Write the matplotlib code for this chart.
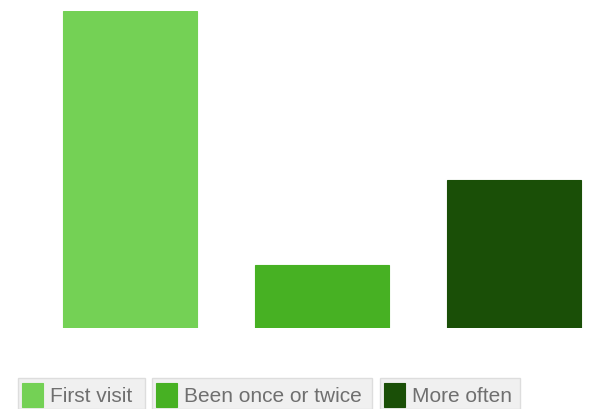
import matplotlib
matplotlib.use("Agg")
import matplotlib.pyplot as plt
from matplotlib.patches import Rectangle

categories = ["First visit", "Been once or twice", "More often"]
values = [60, 12, 28]
colors = ["#74d155", "#47b123", "#1a4f07"]

W, H = 610, 409
fig = plt.figure(figsize=(W / 100, H / 100), dpi=100)

def fx(px):
    return px / W

def fy(py):
    return 1 - py / H

ax_top, ax_bot = 11, 328
ax = fig.add_axes([0, fy(ax_bot), 1, (ax_bot - ax_top) / H])
x = list(range(len(categories)))
ax.bar(x, values, width=0.7, color=colors, edgecolor=colors, linewidth=0.8)
ax.set_xlim(-0.35 - 63 / 192, 2.35 + 29 / 192)
ax.set_ylim(0, 60)
ax.axis("off")

# legend boxes
boxes = [(18, 145), (152, 372), (380, 520)]
for (x0, x1), lab, c in zip(boxes, categories, colors):
    fig.patches.append(Rectangle((fx(x0), fy(409)), fx(x1 - x0), (409 - 378) / H,
                                 transform=fig.transFigure, facecolor="#f0f0f0",
                                 edgecolor="#dddddd", linewidth=1))
    fig.patches.append(Rectangle((fx(x0 + 4), fy(407)), fx(21), 24 / H,
                                 transform=fig.transFigure, facecolor=c,
                                 edgecolor=c, linewidth=0.8))
    fig.text(fx(x0 + 32), fy(396), lab, fontsize=15, color="#6f6f6f",
             family="Liberation Sans", va="center", ha="left")

fig.savefig("out.png", dpi=100)
